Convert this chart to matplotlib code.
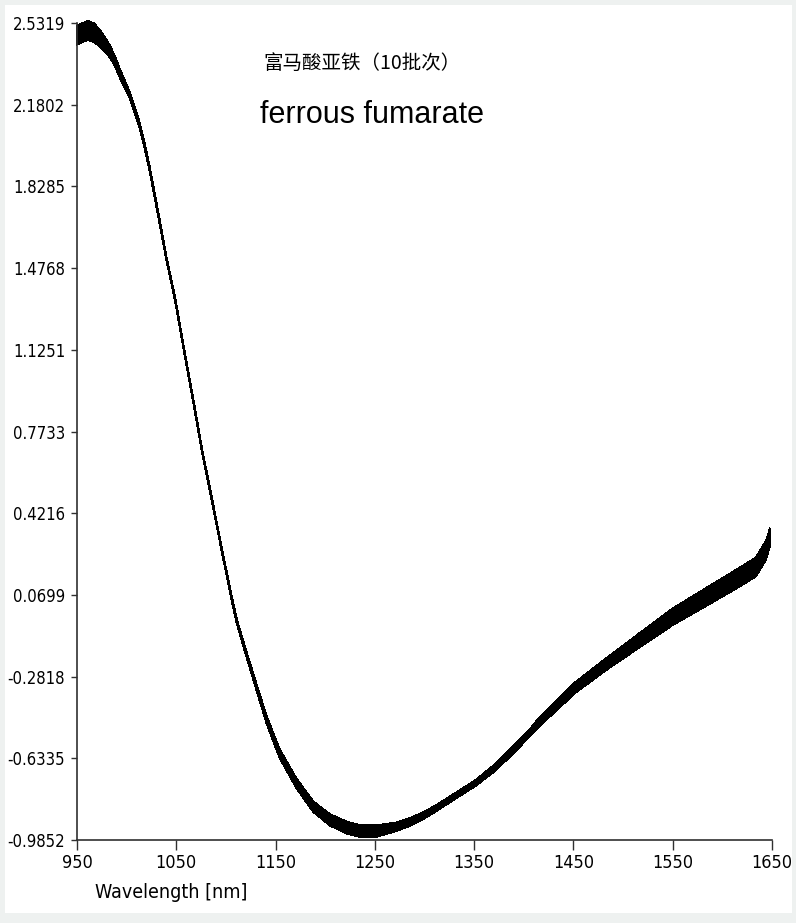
import numpy as np
import matplotlib
matplotlib.use('Agg')
import matplotlib.pyplot as plt
from matplotlib import font_manager
from matplotlib.font_manager import FontProperties
from matplotlib.patches import Rectangle

# spectra: band centre and half-width of the 10 batches
wavelength = [950, 955, 961, 967, 973, 978, 983, 988, 993, 998, 1003, 1008,
              1013, 1018, 1023, 1032, 1040, 1049, 1058, 1067, 1076, 1086,
              1096, 1106, 1111, 1121, 1131, 1141, 1154, 1171, 1188, 1205,
              1222, 1236, 1250, 1272, 1285, 1299, 1310, 1322, 1351, 1372,
              1389, 1400, 1408, 1416, 1436, 1450, 1484, 1517, 1550, 1584,
              1618, 1634, 1644, 1648]
band_mid = [2.48, 2.49, 2.50, 2.49, 2.467, 2.44, 2.41, 2.37, 2.317, 2.27,
            2.222, 2.16, 2.093, 2.005, 1.908, 1.705, 1.52, 1.339, 1.12, 0.909,
            0.69, 0.478, 0.26, 0.052, -0.045, -0.19, -0.33, -0.468, -0.612,
            -0.741, -0.842, -0.899, -0.932, -0.948, -0.948, -0.928, -0.908,
            -0.880, -0.853, -0.820, -0.741, -0.670, -0.598, -0.55, -0.515,
            -0.475, -0.395, -0.335, -0.225, -0.124, -0.024, 0.062, 0.148,
            0.191, 0.263, 0.32]
band_half = [0.04, 0.04, 0.04, 0.04, 0.035, 0.03, 0.025, 0.02, 0.018, 0.015,
             0.012, 0.012, 0.01, 0.01, 0.008, 0.008, 0.006, 0.006, 0.006,
             0.006, 0.006, 0.006, 0.006, 0.008, 0.008, 0.01, 0.012, 0.015,
             0.018, 0.02, 0.022, 0.024, 0.025, 0.025, 0.025, 0.018, 0.016,
             0.014, 0.013, 0.012, 0.012, 0.014, 0.015, 0.015, 0.016, 0.018,
             0.02, 0.022, 0.025, 0.03, 0.035, 0.038, 0.04, 0.04, 0.04, 0.035]
batch_pos = [-1.0, -0.75, -0.5, -0.3, -0.1, 0.1, 0.3, 0.5, 0.75, 1.0]

x_ticks = [950, 1050, 1150, 1250, 1350, 1450, 1550, 1650]
y_tick_labels = ['-0.9852', '-0.6335', '-0.2818', '0.0699', '0.4216',
                 '0.7733', '1.1251', '1.4768', '1.8285', '2.1802', '2.5319']

# look for a narrow sans face, else plain Liberation Sans at a smaller size
cond = [f for f in font_manager.fontManager.ttflist
        if ('Narrow' in f.name or 'Condensed' in f.name or
            str(f.stretch) in ('condensed', 'semi-condensed'))
        and 'Mono' not in f.name and 'Serif' not in f.name
        and f.weight in (400, 'normal', 'regular') and f.style == 'normal']
if cond:
    def tick_font(size):
        return FontProperties(fname=cond[0].fname, size=size)
    ysize, xsize, lsize = 12, 13, 14
else:
    def tick_font(size):
        return FontProperties(family='Liberation Sans', size=size)
    ysize, xsize, lsize = 11, 11.5, 12.5

W, H = 796, 923
fig = plt.figure(figsize=(W / 100, H / 100), dpi=100)
fig.patch.set_facecolor('white')
ax = fig.add_axes([77 / W, 83 / H, 695 / W, 817 / H])

wl = np.array(wavelength)
mid = np.array(band_mid)
half = np.array(band_half)
for p in batch_pos:
    ax.plot(wl, mid + p * half, color='black', lw=0.8, antialiased=False,
            clip_on=False)

ax.set_xlim(950, 1650)
ax.set_ylim(-0.9852, 2.5319)
for s in ['top', 'right']:
    ax.spines[s].set_visible(False)
for s in ['left', 'bottom']:
    ax.spines[s].set_color('#303030')
    ax.spines[s].set_linewidth(1.2)

ax.set_xticks(x_ticks)
ax.set_xticklabels([str(t) for t in x_ticks])
ax.set_yticks([float(t) for t in y_tick_labels])
ax.set_yticklabels(y_tick_labels)
for lab in ax.get_xticklabels():
    lab.set_fontproperties(tick_font(xsize))
for lab in ax.get_yticklabels():
    lab.set_fontproperties(tick_font(ysize))
ax.tick_params(axis='x', direction='out', length=7, width=1, pad=3,
               color='#303030')
ax.tick_params(axis='y', direction='out', length=4.5, width=1, pad=4,
               color='#303030')

fig.text(95 / W, 1 - 893 / H, 'Wavelength [nm]', fontproperties=tick_font(lsize),
         ha='left', va='center')
fig.text(263 / W, 1 - 63 / H, '富马酸亚铁（10批次）',
         fontfamily=['Noto Sans CJK SC', 'DejaVu Sans'], fontsize=14,
         ha='left', va='center')
fig.text(260 / W, 1 - 123 / H, 'ferrous fumarate', fontfamily='Liberation Sans',
         fontsize=22, ha='left', va='baseline')

# light grey screenshot frame
frame = '#eef1f0'
for (x0, y0, w, h) in [(0, 0, 5, H), (0, 0, W, 10), (0, H - 5, W, 5),
                       (W - 4, 0, 4, H)]:
    fig.add_artist(Rectangle((x0 / W, y0 / H), w / W, h / H,
                             transform=fig.transFigure, color=frame, lw=0,
                             zorder=10))

fig.savefig('out.png', dpi=100)
